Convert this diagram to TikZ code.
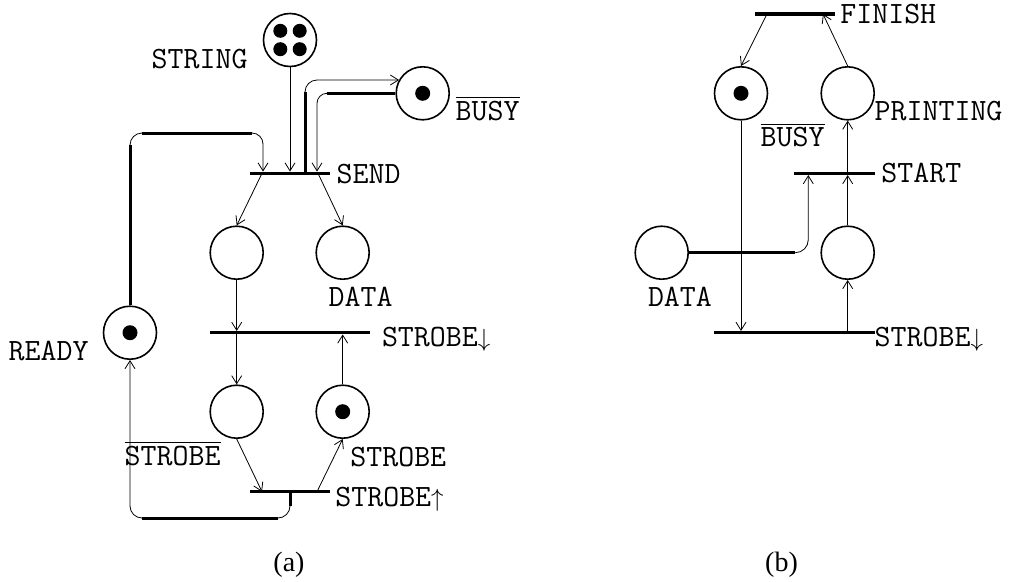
\documentclass[tikz,border=0pt]{standalone}
\usepackage{fontspec}
\setmainfont{Liberation Serif}
\usetikzlibrary{arrows.meta}
\tikzset{
  place/.style={circle, draw, line width=1.6pt, minimum size=53pt, inner sep=0pt},
  trans/.style={rectangle, fill=black, minimum height=3.5pt, inner sep=0pt, outer sep=0pt},
  arc/.style={line width=0.8pt, -{Straight Barb[length=8pt,width=10pt,line width=0.8pt]}},
  thinline/.style={line width=0.8pt},
  thickline/.style={line width=3pt},
  ovl/.style={line width=1.3pt},
  tok/.style={circle, fill=black, inner sep=0pt, minimum size=15pt},
  smalltok/.style={circle, fill=black, inner sep=0pt, minimum size=14pt},
  lbl/.style={font={\ttfamily\fontsize{31pt}{33pt}\selectfont}, inner sep=0pt, anchor=base west},
  captext/.style={font={\fontsize{28pt}{32pt}\selectfont}, inner sep=0pt, anchor=base},
}
\begin{document}
\begin{tikzpicture}[x=1pt,y=-1pt]
\useasboundingbox (0,0) rectangle (1017,581);

% ---------- (a) places ----------
\node[place] (string) at (290,40) {};
\node[smalltok] (s1) at (280.3,30.8) {};
\node[smalltok] (s2) at (299.7,30.8) {};
\node[smalltok] (s3) at (280.3,49.2) {};
\node[smalltok] (s4) at (299.7,49.2) {};
\node[place] (busya) at (422.7,93.3) {};
\node[tok] (tbusya) at (busya.center) {};
\node[place] (ready) at (130,332.7) {};
\node[tok] (tready) at (ready.center) {};
\node[place] (p1) at (236.7,252.7) {};
\node[place] (data) at (342.7,252.7) {};
\node[place] (p3) at (236.7,411.7) {};
\node[place] (p4) at (342.7,411.7) {};
\node[tok] (tp4) at (p4.center) {};

% ---------- (a) transitions ----------
\node[trans, minimum width=80pt] (send) at (290,173.3) {};
\node[trans, minimum width=160pt] (sda) at (290,332.7) {};
\node[trans, minimum width=80pt] (sup) at (290,491.7) {};

% ---------- (b) places ----------
\node[place] (busyb) at (741,93.3) {};
\node[tok] (tbusyb) at (busyb.center) {};
\node[place] (printing) at (847.7,93.3) {};
\node[place] (datab) at (661.7,252.7) {};
\node[place] (pb) at (847.7,252.7) {};

% ---------- (b) transitions ----------
\node[trans, minimum width=80pt] (finish) at (795,14) {};
\node[trans, minimum width=81pt] (start) at (834.5,173.3) {};
\node[trans, minimum width=161pt] (sdb) at (794.5,332.7) {};

% ---------- labels ----------
\node[lbl] (lstring) at (151.5,68) {STRING};
\node[lbl] (lbusya) at (455.5,120) {BUSY};
\draw[ovl] ([yshift=3pt]lbusya.north west) -- ([yshift=3pt]lbusya.north east);
\node[lbl] (lsend) at (336.5,183) {SEND};
\node[lbl] (lready) at (8.5,360) {READY};
\node[lbl] (ldata) at (328.5,306.7) {DATA};
\node[lbl] (lsda) at (381.8,346.7) {STROBE$\downarrow$};
\node[lbl] (lnstrobe) at (124.5,465) {STROBE};
\draw[ovl] ([yshift=3pt]lnstrobe.north west) -- ([yshift=3pt]lnstrobe.north east);
\node[lbl] (lstrobe) at (350.2,466.7) {STROBE};
\node[lbl] (lsup) at (335.2,506.7) {STROBE$\uparrow$};
\node[lbl] (lfinish) at (840.2,23.3) {FINISH};
\node[lbl] (lprinting) at (874.5,120) {PRINTING};
\node[lbl] (lbusyb) at (760.5,146.7) {BUSY};
\draw[ovl] ([yshift=3pt]lbusyb.north west) -- ([yshift=3pt]lbusyb.north east);
\node[lbl] (lstart) at (881.2,182.7) {START};
\node[lbl] (ldatab) at (647.8,306.7) {DATA};
\node[lbl] (lsdb) at (874.5,346.7) {STROBE$\downarrow$};
\node[captext] (capa) at (289,571.5) {(a)};
\node[captext] (capb) at (781.5,571.5) {(b)};

% ---------- (a) arcs ----------
\draw[arc] (string) -- (string |- send.north);

\coordinate (b1) at (317,93.3);
\draw[thickline] (busya.west) -- ([xshift=10pt]b1);
\draw[arc, rounded corners=10pt] ([xshift=10pt]b1) -- (b1) -- (b1 |- send.north);

\coordinate (b2) at (305,80);
\draw[thickline] (b2 |- send.north) -- ([yshift=-12pt]b2);
\draw[arc, rounded corners=12pt] ([yshift=-12pt]b2) -- (b2) -- (b2 -| busya.150);

\coordinate (r1) at (130,133);
\coordinate (r2) at (263,133);
\draw[thickline] (ready.north) -- ([yshift=-12pt]r1);
\draw[thinline, rounded corners=12pt] ([yshift=-12pt]r1) -- (r1) -- ([xshift=12pt]r1);
\draw[thickline] ([xshift=12pt]r1) -- ([xshift=-11pt]r2);
\draw[arc, rounded corners=11pt] ([xshift=-11pt]r2) -- (r2) -- (r2 |- send.north);

\draw[arc] ([xshift=12pt]send.west) -- (p1.north);
\draw[arc] ([xshift=-12pt]send.east) -- (data.north);
\draw[arc] (p1.south) -- (p1 |- sda.north);
\draw[arc] (p3 |- sda.south) -- (p3.north);
\draw[arc] (p4.north) -- (p4 |- sda.south);
\draw[arc] (p3.south) -- ([xshift=12pt]sup.west);
\draw[arc] ([xshift=-13pt]sup.east) -- (p4.south);

\coordinate (q1) at (290,518);
\coordinate (q2) at (130,518);
\draw[thickline] (q1 |- sup.south) -- ([yshift=12pt]q1);
\draw[thinline, rounded corners=12pt] ([yshift=12pt]q1) -- (q1) -- ([xshift=-12pt]q1);
\draw[thickline] ([xshift=-12pt]q1) -- ([xshift=12pt]q2);
\draw[arc, rounded corners=12pt] ([xshift=12pt]q2) -- (q2) -- (ready.south);

% ---------- (b) arcs ----------
\draw[arc] ([xshift=12pt]finish.west) -- (busyb.north);
\draw[arc] (printing.north) -- ([xshift=-12pt]finish.east);
\draw[arc] (printing |- start.north) -- (printing.south);
\coordinate (d1) at (808.3,252.7);
\draw[thickline] (datab.east) -- ([xshift=-13pt]d1);
\draw[arc, rounded corners=13pt] ([xshift=-13pt]d1) -- (d1) -- (d1 |- start.south);
\draw[arc] (pb.north) -- (pb |- start.south);
\draw[arc] (busyb.south) -- (busyb |- sdb.north);
\draw[arc] (pb |- sdb.north) -- (pb.south);
\end{tikzpicture}
\end{document}
